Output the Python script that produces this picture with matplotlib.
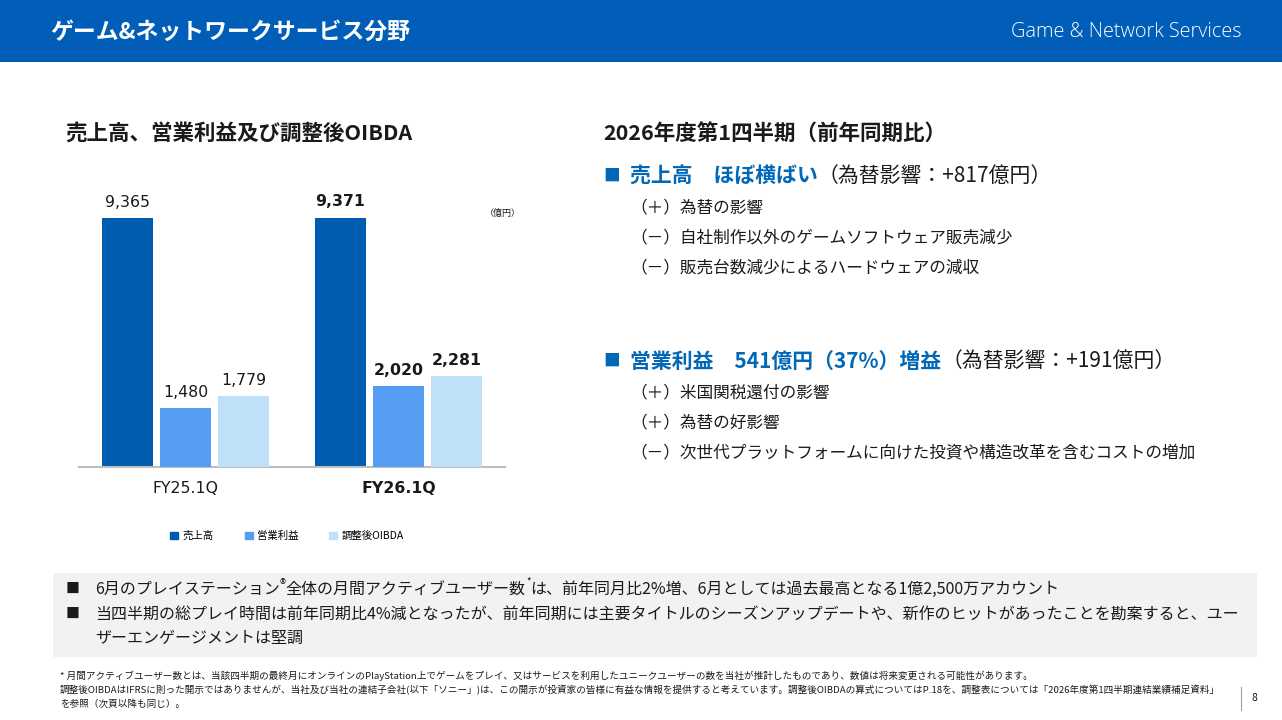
import matplotlib
matplotlib.use("Agg")
import matplotlib.pyplot as plt
from matplotlib.patches import Rectangle, Patch

# ---- data ----
periods = ["FY25.1Q", "FY26.1Q"]
series_names = ["売上高", "営業利益", "調整後OIBDA"]
sales = [9365, 9371]
op_income = [1480, 2020]
adj_oibda = [1779, 2281]

W, H = 1282, 720
JP = ["Noto Sans CJK JP", "DejaVu Sans"]
plt.rcParams["font.family"] = JP

BLUE_HDR = "#005EB8"
BLUE_TXT = "#0068B7"
C_DARK = "#005CB0"
C_MID = "#559DF2"
C_LIGHT = "#BEE0F9"
TXT = "#1a1a1a"

fig = plt.figure(figsize=(W / 100, H / 100), dpi=100)
fig.patch.set_facecolor("white")


def fx(x):
    return x / W


def fy(y):
    return 1 - y / H


def put(x, y, s, **kw):
    return fig.text(fx(x), fy(y), s, **kw)


# header band
fig.patches.append(Rectangle((0, fy(62)), 1, 62 / H, transform=fig.transFigure,
                             facecolor=BLUE_HDR, edgecolor="none", zorder=0))
put(50, 32, "ゲーム&ネットワークサービス分野", color="white", fontsize=16.5,
    fontweight="bold", va="center")
put(1242, 32, "Game & Network Services", color="white", fontsize=14.3,
    family=["Open Sans", "DejaVu Sans"], fontweight="light", va="center", ha="right")

# subtitles
put(65, 133, "売上高、営業利益及び調整後OIBDA", color=TXT, fontsize=15.5,
    fontweight="bold", va="center")
put(603, 133, "2026年度第1四半期（前年同期比）", color=TXT, fontsize=15.5,
    fontweight="bold", va="center")

# ---- bar chart (sales on its own scale, profits on a second scale) ----
ax = fig.add_axes([fx(79), fy(467), fx(505) - fx(79), (467 - 180) / H])
ax2 = ax.twinx()
ax.set_xlim(-0.5, 1.5)
ax.set_ylim(0, 10790)
ax2.set_ylim(0, 7190)
w = 0.239
off = 0.274
colors = [C_DARK, C_MID, C_LIGHT]
for i, vals in enumerate([sales, op_income, adj_oibda]):
    a = ax if i == 0 else ax2
    xs = [p + (i - 1) * off for p in range(len(periods))]
    a.bar(xs, vals, width=w, color=colors[i], label=series_names[i], zorder=2)
    for j, (xv, v) in enumerate(zip(xs, vals)):
        a.annotate(f"{v:,}", (xv, v), xytext=(0, 6), textcoords="offset points",
                   ha="center", va="bottom", fontsize=11.3, color=TXT,
                   family=["DejaVu Sans"],
                   fontweight="bold" if j == 1 else "normal")

for a in (ax, ax2):
    for s in ["top", "right", "left"]:
        a.spines[s].set_visible(False)
    a.set_yticks([])
ax2.spines["bottom"].set_visible(False)
ax.spines["bottom"].set_color("#bfbfbf")
ax.spines["bottom"].set_linewidth(1.5)
ax.set_xticks(range(len(periods)), periods)
ax.tick_params(axis="x", length=0, pad=10, labelsize=11.3, labelcolor=TXT)
for k, lab in enumerate(ax.get_xticklabels()):
    lab.set_family(["DejaVu Sans"])
    if k == 1:
        lab.set_fontweight("bold")

put(503, 213, "（億円）", fontsize=6.5, color=TXT, va="center", ha="center")

fig.legend(handles=[Patch(color=c) for c in colors], labels=series_names,
           loc="center", bbox_to_anchor=(fx(287), fy(536)), ncol=3, frameon=False,
           fontsize=7.5, handlelength=0.75, handleheight=0.75, handletextpad=0.4,
           columnspacing=3.0)

# ---- right text ----
fig.canvas.draw()
renderer = fig.canvas.get_renderer()


def runs(x, y, parts):
    """Place text pieces one after another on a line; returns end x (px)."""
    cur = x
    for s, kw, dy in parts:
        t = put(cur, y + dy, s, va="center", **kw)
        cur += t.get_window_extent(renderer).width
    return cur


sq = dict(color=BLUE_TXT, fontsize=12)
head = dict(color=BLUE_TXT, fontsize=15, fontweight="bold")
norm = dict(color=TXT, fontsize=15)

runs(603, 176, [("■", sq, 0)])
runs(630, 176, [("売上高　ほぼ横ばい", head, 0), ("（為替影響：+817億円）", norm, 0)])
sub1 = ["（＋）為替の影響",
        "（－）自社制作以外のゲームソフトウェア販売減少",
        "（－）販売台数減少によるハードウェアの減収"]
for k, s in enumerate(sub1):
    put(630, 208 + 30 * k, s, fontsize=12, color=TXT, va="center")

runs(603, 361, [("■", sq, 0)])
runs(630, 361, [("営業利益　541億円（37%）増益", head, 0), ("（為替影響：+191億円）", norm, 0)])
sub2 = ["（＋）米国関税還付の影響",
        "（＋）為替の好影響",
        "（－）次世代プラットフォームに向けた投資や構造改革を含むコストの増加"]
for k, s in enumerate(sub2):
    put(630, 393 + 30 * k, s, fontsize=12, color=TXT, va="center")

# ---- bottom box ----
fig.patches.append(Rectangle((fx(53), fy(657)), (1257 - 53) / W, (657 - 573) / H,
                             transform=fig.transFigure, facecolor="#f2f2f2",
                             edgecolor="none", zorder=0))
bt = dict(fontsize=11.5, color=TXT)
put(66, 589, "■", fontsize=10, color=TXT, va="center")
end = runs(95, 589, [("6月のプレイステーション", bt, 0),
                     ("®", dict(fontsize=9, color=TXT), -4),
                     ("全体の月間アクティブユーザー数", bt, 0),
                     ("*", dict(fontsize=7, color=TXT), -8)])
runs(end, 589, [("は、前年同月比2%増、6月としては過去最高となる1億2,500万アカウント", bt, 0)])

put(66, 614, "■", fontsize=10, color=TXT, va="center")
put(95, 614, "当四半期の総プレイ時間は前年同期比4%減となったが、前年同期には主要タイトルのシーズンアップデートや、新作のヒットがあったことを勘案すると、ユー",
    va="center", **bt)
put(95, 638, "ザーエンゲージメントは堅調", va="center", **bt)

# ---- footnotes ----
fn = dict(fontsize=6.9, color=TXT, va="center")
put(60, 676, "* 月間アクティブユーザー数とは、当該四半期の最終月にオンラインのPlayStation上でゲームをプレイ、又はサービスを利用したユニークユーザーの数を当社が推計したものであり、数値は将来変更される可能性があります。", **fn)
put(60, 690, "調整後OIBDAはIFRSに則った開示ではありませんが、当社及び当社の連結子会社(以下「ソニー」)は、この開示が投資家の皆様に有益な情報を提供すると考えています。調整後OIBDAの算式についてはP.18を、調整表については「2026年度第1四半期連結業績補足資料」", **fn)
put(60, 704, "を参照（次頁以降も同じ）。", **fn)

fig.add_artist(plt.Line2D([fx(1241), fx(1241)], [fy(710), fy(687)], color="#a0a0a0", lw=0.8))
put(1254, 698, "8", fontsize=7.5, color=TXT, va="center", ha="center")

fig.savefig("out.png", dpi=100)
